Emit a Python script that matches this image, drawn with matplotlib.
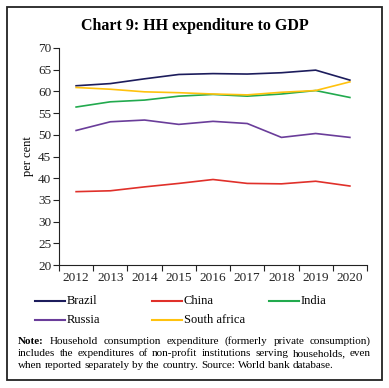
"""Chart 9: HH expenditure to GDP (per cent), selected BRICS economies."""
import matplotlib
matplotlib.use("Agg")
import matplotlib.pyplot as plt
from matplotlib.lines import Line2D
from matplotlib.patches import Rectangle

plt.rcParams.update({
    "font.family": ["Liberation Serif", "DejaVu Serif"],
    "font.size": 8, "axes.edgecolor": "#222222",
    "xtick.color": "#222222", "ytick.color": "#222222",
})

W, H = 389, 388
years = [2012, 2013, 2014, 2015, 2016, 2017, 2018, 2019, 2020]
brazil = [61.3, 61.8, 62.9, 63.9, 64.1, 64.0, 64.3, 64.9, 62.6]
china = [36.9, 37.1, 38.0, 38.8, 39.7, 38.8, 38.7, 39.3, 38.2]
india = [56.4, 57.6, 58.0, 58.9, 59.3, 58.9, 59.4, 60.2, 58.6]
russia = [51.0, 53.0, 53.4, 52.4, 53.1, 52.6, 49.4, 50.3, 49.4]
south_africa = [60.9, 60.5, 59.9, 59.7, 59.4, 59.2, 59.8, 60.2, 62.2]
y_ticks = [20, 25, 30, 35, 40, 45, 50, 55, 60, 65, 70]

series = [("Brazil", brazil, "#1C1C5C"), ("China", china, "#E0302A"),
          ("India", india, "#22AA4E"), ("Russia", russia, "#6A3D9A"),
          ("South africa", south_africa, "#FFC20E")]


def fx(px):
    return px / W


def fy(py):
    return 1 - py / H


fig = plt.figure(figsize=(W / 100, H / 100), dpi=100)
fig.patches.append(Rectangle((fx(7), fy(380)), fx(375), (380 - 7) / H,
                             transform=fig.transFigure, fill=False,
                             lw=1.3, ec="#222222"))

ax = fig.add_axes([fx(59), fy(265), fx(367 - 59), (265 - 48) / H])
x = list(range(len(years)))
for name, vals, col in series:
    ax.plot(x, vals, color=col, lw=1.2)
ax.set_xlim(-0.5, len(years) - 0.5)
ax.set_ylim(20, 70)
ax.set_yticks(y_ticks)
ax.set_xticks([i + 0.5 for i in range(-1, len(years))])
ax.set_xticklabels([])
ax.set_xticks(x, minor=True)
ax.set_xticklabels([str(y) for y in years], minor=True, fontsize=9.5)
ax.tick_params(axis="x", which="minor", length=0, pad=5)
ax.tick_params(axis="x", which="major", length=4, direction="out")
ax.tick_params(axis="y", length=4, direction="out", labelsize=9.5, pad=1.5)
for s in ("top", "right"):
    ax.spines[s].set_visible(False)
ax.set_ylabel("per cent", fontsize=9, labelpad=3)

fig.text(0.5, fy(26), "Chart 9: HH expenditure to GDP", ha="center",
         va="center", fontsize=11.5, fontweight="bold")

# legend, laid out row by row as in the source
for i, (name, vals, col) in enumerate(series):
    row, c = divmod(i, 3)
    x0 = 35 + c * 117
    yy = 301 + row * 19
    fig.lines.append(Line2D([fx(x0), fx(x0 + 30)], [fy(yy), fy(yy)],
                            transform=fig.transFigure, color=col, lw=1.5))
    fig.text(fx(x0 + 32), fy(yy), name, va="center", fontsize=9)

# justified note
note_lines = [
    ("Note: Household consumption expenditure (formerly private consumption)", True),
    ("includes the expenditures of non-profit institutions serving households, even", True),
    ("when reported separately by the country. Source: World bank database.", False),
]
NOTE_FS = 8.0
fig.canvas.draw()
rend = fig.canvas.get_renderer()
tmp2 = fig.text(0, 0, "a a", fontsize=NOTE_FS)
tmp1 = fig.text(0, 0, "aa", fontsize=NOTE_FS)
space = tmp2.get_window_extent(rend).width - tmp1.get_window_extent(rend).width
tmp1.remove()
tmp2.remove()

left, right = 18, 371
for k, (line, justify) in enumerate(note_lines):
    yy = fy(341 + k * 12.5)
    words = line.split(" ")
    texts = [fig.text(0, yy, wd, va="center", fontsize=NOTE_FS,
                      fontweight="bold" if (k == 0 and j == 0) else "normal")
             for j, wd in enumerate(words)]
    widths = [t.get_window_extent(rend).width for t in texts]
    gap = (right - left - sum(widths)) / (len(words) - 1) if justify else space
    pos = left
    for t, w_ in zip(texts, widths):
        t.set_x(fx(pos))
        pos += w_ + gap

fig.savefig("out.png", dpi=100)
